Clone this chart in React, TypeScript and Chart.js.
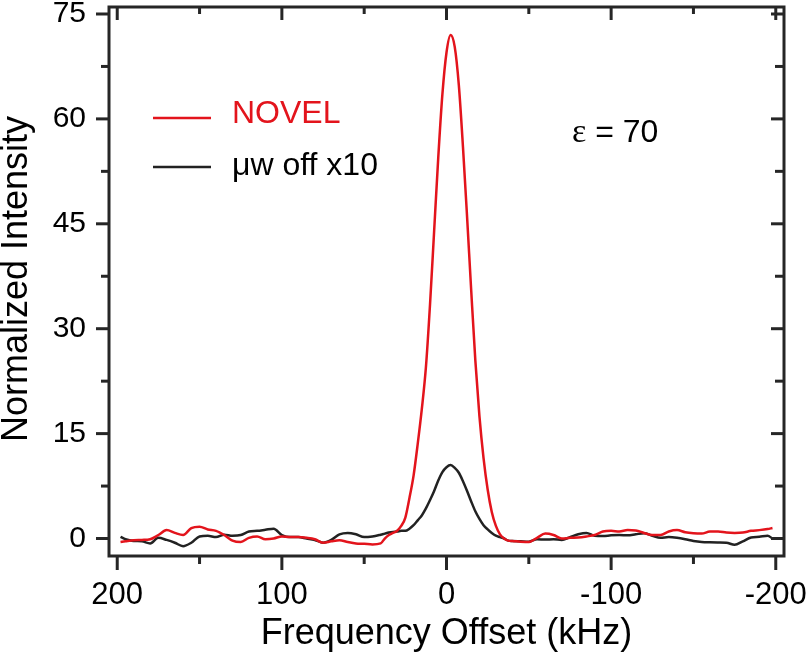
import React, { useEffect, useRef } from "react";
import { Chart, registerables } from "chart.js";

Chart.register(...registerables);

// Frequency offset (kHz)
const frequencies = [
  198, 195, 190, 185, 180, 175, 170, 165, 160, 155, 150, 145, 140, 135, 130, 125,
  120, 115, 110, 105, 100, 95, 90, 85, 80, 75, 70, 65, 60, 55, 50, 45,
  40, 37.5, 35, 32.5, 30, 27.5, 25, 22.5, 20, 17.5, 15, 12.5, 10, 7.5, 5, 2.5,
  0, -2.5, -5, -7.5, -10, -12.5, -15, -17.5, -20, -22.5, -25, -27.5, -30, -32.5, -35, -37.5, -40,
  -45, -50, -55, -60, -65, -70, -75, -80, -85, -90, -95, -100, -105, -110, -115, -120,
  -125, -130, -135, -140, -145, -150, -155, -160, -165, -170, -175, -180, -185, -190, -195, -198,
];

const novel = [
  -0.5, -0.4, -0.25, -0.2, -0.1, 0.5, 1.2, 0.8, 0.5, 1.5, 1.7, 1.3, 1.1, 0.5, -0.3, -0.5,
  0.1, 0.3, -0.1, 0.0, 0.3, 0.2, 0.2, 0.1, -0.1, -0.6, -0.4, -0.25, -0.5, -0.7, -0.75, -0.85,
  -0.7, 0.0, 0.5, 0.8, 1.1, 1.8, 3.0, 5.8, 9.0, 13.5, 18.5, 24.5, 33.5, 44, 54.5, 63.5,
  69.5, 72, 70.3, 64.8, 56, 46, 35.5, 25.5, 17.5, 11.5, 7.0, 3.8, 1.8, 0.6, 0.0, -0.3, -0.35,
  -0.45, -0.5, 0.1, 0.7, 0.5, 0.0, 0.1, 0.15, 0.3, 0.5, 1.0, 1.1, 1.0, 1.2, 1.15, 0.8,
  0.5, 0.5, 1.0, 1.2, 0.9, 0.75, 0.7, 1.0, 1.0, 0.85, 0.8, 0.85, 1.1, 1.2, 1.35, 1.5,
];

const mwOff = [
  0.25, -0.1, -0.35, -0.4, -0.7, 0.1, -0.2, -0.6, -1.1, -0.6, 0.3, 0.4, 0.2, 0.55, 0.4, 0.5,
  1.0, 1.1, 1.25, 1.4, 0.5, 0.2, 0.2, 0.0, -0.2, -0.6, -0.2, 0.6, 0.8, 0.6, 0.2, 0.3,
  0.55, 0.7, 0.85, 0.95, 1.0, 1.1, 1.1, 1.4, 1.9, 2.6, 3.3, 4.3, 5.5, 6.8, 8.3, 9.5,
  10.2, 10.5, 10.1, 9.4, 8.2, 6.8, 5.3, 3.9, 2.8, 1.9, 1.3, 0.8, 0.4, 0.2, 0.0, -0.3, -0.35,
  -0.4, -0.45, -0.1, -0.15, -0.1, -0.2, 0.2, 0.6, 0.8, 0.4, 0.35, 0.45, 0.5, 0.45, 0.6, 0.75,
  0.4, 0.1, 0.2, 0.1, -0.1, -0.35, -0.5, -0.55, -0.57, -0.6, -0.9, -0.4, 0.15, 0.25, 0.4, 0.0,
];

const seriesLabels = ["NOVEL", "\u03bcw off x10"];
const seriesColors = ["#e3141c", "#222222"];

const xTicks = [200, 100, 0, -100, -200];
const xMinorTicks = [150, 50, -50, -150];
const yTicks = [0, 15, 30, 45, 60, 75];
const yMinorTicks = [7.5, 22.5, 37.5, 52.5, 67.5];

const xTitle = "Frequency Offset (kHz)";
const yTitle = "Normalized Intensity";
const annotationSymbol = "\u03b5";
const annotationText = " = 70";

const SANS = '"Liberation Sans", Arial, Helvetica, sans-serif';
const SERIF = '"Liberation Serif", "Times New Roman", serif';

const decorPlugin = {
  id: "decor",
  afterDatasetsDraw(chart: any) {
    const { ctx, chartArea: a, scales } = chart;
    const xs = scales.x;
    const ys = scales.y;
    ctx.save();
    ctx.strokeStyle = "#262626";
    ctx.lineWidth = 3;
    ctx.lineCap = "butt";
    ctx.strokeRect(a.left, a.top, a.right - a.left, a.bottom - a.top);
    const seg = (x1: number, y1: number, x2: number, y2: number) => {
      ctx.beginPath();
      ctx.moveTo(x1, y1);
      ctx.lineTo(x2, y2);
      ctx.stroke();
    };
    xTicks.forEach((v) => {
      const p = xs.getPixelForValue(v);
      seg(p, a.bottom, p, a.bottom + 14);
      seg(p, a.top, p, a.top + 13);
    });
    xMinorTicks.forEach((v) => {
      const p = xs.getPixelForValue(v);
      seg(p, a.bottom, p, a.bottom + 8);
      seg(p, a.top, p, a.top + 7);
    });
    yTicks.forEach((v) => {
      const p = ys.getPixelForValue(v);
      seg(a.left - 13, p, a.left, p);
      seg(a.right - 13, p, a.right, p);
    });
    yMinorTicks.forEach((v) => {
      const p = ys.getPixelForValue(v);
      seg(a.left - 8, p, a.left, p);
      seg(a.right - 9, p, a.right, p);
    });
    ctx.restore();
  },
  afterDraw(chart: any) {
    const { ctx, chartArea: a } = chart;
    ctx.save();
    // axis titles
    ctx.fillStyle = "#000";
    ctx.font = `36px ${SANS}`;
    ctx.textAlign = "center";
    ctx.textBaseline = "alphabetic";
    ctx.fillText(xTitle, (a.left + a.right) / 2, 644);
    ctx.save();
    ctx.translate(27, 279);
    ctx.rotate(-Math.PI / 2);
    ctx.fillText(yTitle, 0, 0);
    ctx.restore();

    // legend
    const ds = chart.data.datasets;
    const rows = [118, 167];
    const bases = [123, 175];
    ds.forEach((d: any, i: number) => {
      ctx.strokeStyle = d.borderColor;
      ctx.lineWidth = 2.5;
      ctx.beginPath();
      ctx.moveTo(153, rows[i]);
      ctx.lineTo(211, rows[i]);
      ctx.stroke();
      ctx.fillStyle = i === 0 ? d.borderColor : "#000";
      ctx.font = `32px ${SANS}`;
      ctx.textAlign = "left";
      ctx.fillText(d.label, 232, bases[i]);
    });

    // annotation
    ctx.fillStyle = "#000";
    ctx.textAlign = "left";
    ctx.font = `34px ${SERIF}`;
    ctx.fillText(annotationSymbol, 572, 142);
    const w = ctx.measureText(annotationSymbol).width;
    ctx.font = `32px ${SANS}`;
    ctx.fillText(annotationText, 572 + w, 142);
    ctx.restore();
  },
};

export default function App() {
  const ref = useRef<HTMLCanvasElement | null>(null);

  useEffect(() => {
    if (!ref.current) return;
    const chart = new Chart(ref.current, {
      type: "line",
      data: {
        datasets: [
          {
            label: seriesLabels[0],
            data: frequencies.map((f, i) => ({ x: f, y: novel[i] })),
            borderColor: seriesColors[0],
            borderWidth: 2.5,
            pointRadius: 0,
            cubicInterpolationMode: "monotone",
            fill: false,
          },
          {
            label: seriesLabels[1],
            data: frequencies.map((f, i) => ({ x: f, y: mwOff[i] })),
            borderColor: seriesColors[1],
            borderWidth: 2.5,
            pointRadius: 0,
            cubicInterpolationMode: "monotone",
            fill: false,
          },
        ],
      },
      options: {
        animation: false,
        responsive: false,
        devicePixelRatio: 1,
        layout: { padding: { left: 0, right: 22, top: 7, bottom: 0 } },
        plugins: { legend: { display: false }, tooltip: { enabled: false } },
        scales: {
          x: {
            type: "linear",
            min: -205,
            max: 205,
            reverse: true,
            grid: { display: false, drawTicks: false },
            border: { display: false },
            ticks: {
              color: "#000",
              font: { family: SANS, size: 31 },
              padding: 21,
              maxRotation: 0,
              autoSkip: false,
              callback: (v: any) => String(v),
            },
            afterBuildTicks: (s: any) => {
              s.ticks = xTicks.map((v) => ({ value: v }));
            },
            afterFit: (s: any) => {
              s.height = 107;
              s.paddingLeft = 0;
              s.paddingRight = 0;
            },
          },
          y: {
            type: "linear",
            min: -2.5,
            max: 76,
            grid: { display: false, drawTicks: false },
            border: { display: false },
            ticks: {
              color: "#000",
              font: { family: SANS, size: 30 },
              padding: 23,
              autoSkip: false,
              callback: (v: any) => String(v),
            },
            afterBuildTicks: (s: any) => {
              s.ticks = yTicks.map((v) => ({ value: v }));
            },
            afterFit: (s: any) => {
              s.width = 109;
              s.paddingTop = 0;
              s.paddingBottom = 0;
            },
          },
        },
      },
      plugins: [decorPlugin],
    } as any);
    return () => chart.destroy();
  }, []);

  return (
    <div style={{ position: "fixed", left: 0, top: 0, width: 806, height: 663, background: "#fff" }}>
      <canvas ref={ref} width={806} height={663} style={{ display: "block" }} />
    </div>
  );
}
